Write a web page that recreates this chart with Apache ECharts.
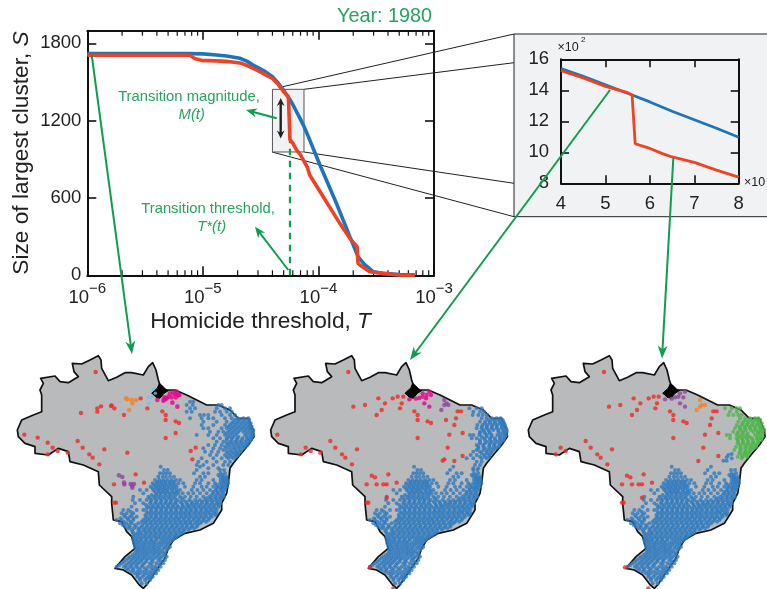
<!DOCTYPE html>
<html><head><meta charset="utf-8">
<style>html,body{margin:0;padding:0;background:#fff}#c{width:767px;height:589px}</style>
<script src="https://cdn.jsdelivr.net/npm/echarts@6/dist/echarts.min.js"></script>
</head><body><div id="c"></div>
<script>
// ---- curves ----
const blueT=[1e-6,7.73e-6,1e-5,1.31e-5,1.6e-5,2.09e-5,2.4e-5,2.72e-5,3e-5,3.4e-5,4e-5,4.5e-5,5e-5,5.6e-5,6e-5,6.5e-5,7e-5,7.5e-5,8e-5,1.03e-4,1.43e-4,1.87e-4,2.2e-4,2.5e-4,2.97e-4,3.62e-4,5.04e-4,6.8e-4];
const blueS=[1720,1720,1718,1710,1702,1684,1662,1632,1612,1585,1540,1490,1435,1370,1325,1265,1210,1155,1097,856,559,300,145,85,28,15,5,3];
const redT=[1e-6,7.7e-6,8.5e-6,9.7e-6,1.3e-5,1.6e-5,1.87e-5,2.16e-5,2.5e-5,2.91e-5,3.2e-5,3.5e-5,4e-5,4.5e-5,5e-5,5.5e-5,5.6e-5,5.67e-5,6e-5,6.3e-5,6.5e-5,7e-5,7.5e-5,8e-5,8.4e-5,1.1e-4,1.53e-4,1.87e-4,2.16e-4,2.2e-4,2.35e-4,2.78e-4,3.62e-4,5.04e-4,6.8e-4];
const redS=[1707,1707,1683,1668,1664,1660,1653,1645,1622,1593,1575,1555,1527,1480,1425,1385,1370,1055,1025,990,970,935,885,840,778,610,403,287,222,93,72,28,15,2,0];
const transitionT=5.67e-5, transitionTopS=1050;
const zoomBoxT=[4e-5,7.5e-5], zoomBoxS=[957,1443];
const minorTickT=[2e-6,3e-6,4e-6,5e-6,6e-6,7e-6,8e-6,9e-6,2e-5,3e-5,4e-5,5e-5,6e-5,7e-5,8e-5,9e-5,2e-4,3e-4,4e-4,5e-4,6e-4,7e-4,8e-4,9e-4];
// ---- map outline (shared by all three maps) ----
const outline=[[217,70],[245,72],[270,60],[295,47],[303,60],[305,85],[325,122],[350,112],[375,98],[395,98],[430,105],[445,80],[458,68],[468,90],[475,120],[480,135],[490,145],[500,150],[525,150],[560,165],[590,180],[620,195],[655,195],[690,210],[715,235],[745,235],[760,270],[762,290],[745,315],[720,345],[700,370],[690,385],[685,430],[680,460],[665,490],[665,510],[640,550],[600,570],[555,580],[520,600],[505,625],[495,655],[470,690],[440,735],[430,745],[418,735],[395,705],[370,690],[345,685],[375,650],[405,625],[395,590],[380,575],[365,545],[340,540],[335,490],[335,470],[298,435],[295,395],[250,375],[210,365],[205,335],[175,325],[145,345],[105,340],[105,320],[75,310],[55,290],[52,270],[65,240],[100,225],[125,215],[125,165],[120,150],[130,130],[122,115],[165,108],[180,125],[205,128],[235,110],[222,95],[217,70]];
const marajo=[[478,130],[490,140],[497,150],[505,152],[492,160],[480,175],[468,172],[462,165],[455,160],[465,150],[472,145]];
// ---- towns shared by the three maps (south/centre, [y,[x...]]) ----
const southRows=[[380,[482,600]],[390,[492,503,590,660,672]],[400,[480,490,500,510,582,610,625,662,675]],[410,[475,488,498,510,522,600,615,660,670,680]],[420,[465,478,490,502,515,528,540,590,605,640,662,672,682]],[430,[458,470,482,495,508,520,535,550,585,600,625,645,660,672,684]],[440,[452,468,480,492,505,518,530,555,580,605,620,640,655,668,680]],[450,[420,440,460,475,488,500,515,530,540,575,592,610,630,648,662,675]],[460,[430,470,482,495,508,522,535,548,565,580,600,620,640,655,670]],[470,[400,445,462,475,490,505,520,540,555,572,590,610,628,645,660,672]],[480,[398,420,440,455,470,485,500,515,532,550,568,585,600,615,630,645,660]],[490,[405,430,450,465,480,495,510,525,545,560,578,590,605,620,635,650,662]],[500,[395,445,460,475,490,505,520,535,550,565,580,595,610,625,640,655]],[510,[370,385,410,430,455,470,485,500,515,530,545,560,575,590,605,620,635,650]],[520,[365,380,400,445,460,475,490,505,520,535,550,565,580,595,610,625,640,650]],[530,[375,390,410,440,455,470,485,500,515,530,545,560,575,590,605,620,635]],[540,[350,365,385,400,430,445,460,475,490,505,520,535,550,565,580,595,610,625]],[550,[360,378,395,415,435,450,465,480,495,510,525,540,555,570,585,600]],[560,[375,390,408,425,440,455,470,485,500,515,530,545,560,575,590]],[570,[395,415,430,445,460,475,490,505,520,535,550,565]],[580,[400,412,425,440,455,470,485,500,515,530,545]],[590,[400,415,430,445,460,475,490,505,520,530]],[600,[400,412,425,440,455,470,490,505,518]],[610,[402,415,430,445,460,475,490,505]],[620,[405,418,432,448,462,478,495,510]],[630,[408,420,435,450,465,480,500]],[640,[405,420,435,450,465,480,495]],[650,[390,405,420,435,452,470,485,500]],[660,[378,395,410,425,440,455,475,495]],[670,[365,385,400,415,432,450,470,490]],[680,[350,372,390,408,425,445,465,482]],[690,[385,400,420,440,460,475]],[700,[405,420,440,458,468]],[710,[412,428,445,458]],[720,[420,435,450]],[730,[425,440]]];
const southDenseRows=[[405,[655,668]],[415,[668,678]],[425,[472,485,497,510,522,668,678]],[435,[462,475,488,500,513,525,650,665,676]],[445,[458,470,482,495,508,522,650,662,672]],[455,[465,478,490,503,518,530,640,652,666]],[465,[455,468,482,497,512,528,635,650,664]],[475,[450,465,480,495,510,525,545,620,635,650,664]],[485,[452,468,483,498,512,527,541,558,574,592,607,622,637,652]],[495,[438,456,472,487,503,517,531,548,562,572,586,600,616,630,644,657]],[505,[440,452,467,482,497,512,527,542,556,570,586,602,616,631,645]],[515,[392,440,452,467,482,497,512,527,542,556,570,586,601,616,628,642]],[525,[372,395,436,452,467,482,497,512,527,542,556,570,586,601,616,632,646]],[535,[362,382,400,436,449,465,480,495,510,525,538,553,568,583,598,612,628]],[545,[372,392,425,438,453,468,483,498,513,528,543,558,572,590,605,618]],[555,[368,386,405,427,443,458,473,488,502,518,533,548,562,577,593]],[565,[385,402,418,435,450,465,480,495,510,525,540,555,570,582]],[575,[398,420,436,450,465,480,495,510,525,540,552]],[585,[407,420,435,450,465,480,495,510,525,538]],[595,[406,422,437,452,468,482,498,512,525]],[605,[407,420,435,450,463,482,497,512]],[615,[410,425,438,454,468,484,500]],[625,[414,428,442,458,472,490,505]],[635,[412,428,442,458,472,488]],[645,[398,412,428,442,460,475,492]],[655,[385,400,415,430,445,462,480]],[665,[372,390,405,420,438,458,482]],[675,[358,378,395,410,428,455,478]],[685,[380,398,415,435,455,470]],[695,[395,412,430,450,466]],[705,[413,432,450]],[715,[420,440,452]]];
// dense core of the north-east, written in map 1's frame
const neCoreRows=[[240,[705,720,735,748]],[250,[695,710,725,740,752]],[260,[685,700,715,730,745,755]],[270,[690,705,720,735,750,760]],[280,[680,695,710,740,755]],[290,[685,700,715,740,755]],[300,[680,695,710,725,740,752]],[310,[680,695,710,725,740]],[320,[675,690,707,722,735]],[330,[670,690,705,720]],[340,[685,700,712]],[350,[680,695,708]]];
// ---- map 1 ----
const neRows1=[[185,[570,580]],[195,[560,578,655,665]],[205,[570,585,650,675,690]],[215,[560,575,645,660,680,695]],[225,[600,612,625,665,690,705]],[235,[570,605,625,640,675,695,712,730,745]],[245,[610,650,680,700,715,730,745]],[255,[605,640,675,690,705,720,735,750]],[265,[610,625,665,680,695,710,725,740,752]],[275,[630,655,670,685,700,715,730,745,758]],[285,[590,625,650,675,690,705,735,750,760]],[295,[640,660,680,695,712,728,745,755]],[305,[650,670,690,705,720,735,748]],[315,[625,645,665,685,700,715,730,742]],[325,[610,640,660,680,700,715,730]],[335,[615,635,655,680,695,710,722]],[345,[630,650,675,690,705,715]],[355,[605,640,665,685,700]],[365,[595,620,650,675,690]],[375,[590,610,640,670,685]],[385,[625,655]]];
const red1=[[287,96],[73,284],[113,293],[143,308],[158,323],[173,333],[143,343],[203,338],[233,303],[248,323],[268,343],[278,353],[298,373],[313,328],[382,338],[243,219],[292,205],[292,215],[303,199],[333,198],[335,196],[343,205],[372,225],[422,175],[442,205],[487,214],[497,225],[497,240],[527,244],[537,249],[527,279],[497,294],[572,333],[587,323],[577,358],[407,403],[432,428],[342,433],[342,488],[348,488]];
const orange1=[[378,175],[382,178],[395,180],[408,180],[397,190],[387,210]];
const purple1=[[357,406],[367,411],[372,428],[373,433],[392,432],[397,437],[402,432],[397,443]];
const pink1=[[472,180],[490,182],[495,178],[505,170],[510,160],[520,158],[530,155],[535,165],[528,172],[515,172],[500,175],[538,165],[517,188],[532,200],[493,172],[525,162]];
const sky1=[[460,148],[455,170],[447,190],[445,172],[466,160]];
// ---- map 2 ----
const neRows2=[[205,[628,650,665]],[215,[640,660,672]],[225,[638,655,668,680]],[235,[665,680,695,710,722]],[245,[660,675,690,705,720,730]],[255,[652,668,682,698,712,727,735]],[265,[650,665,680,695,710,725,738]],[275,[660,672,688,715,730,740]],[285,[630,640,658,680,695,712,728,738]],[295,[635,650,672,690,705,720,732]],[305,[660,680,695,712,725]],[315,[650,670,688,702,718]],[325,[655,675,692,708]],[335,[640,660,680,695]],[345,[632,650,672,688]],[355,[620,640,665,680]],[365,[650,665]],[375,[645,660]],[385,[640,655]]];
const red2=[[265,96],[52,284],[137,323],[152,333],[122,343],[181,338],[211,303],[226,323],[246,343],[256,353],[276,373],[291,328],[280,200],[315,195],[355,175],[375,190],[350,225],[365,210],[398,175],[413,170],[430,170],[425,190],[420,205],[463,214],[473,225],[473,240],[503,244],[513,249],[473,294],[558,240],[588,235],[583,255],[593,214],[603,214],[568,284],[608,279],[563,323],[553,358],[548,362],[583,363],[608,348],[335,407],[345,412],[385,403],[410,428],[320,433],[350,433],[370,433],[380,433],[380,473],[320,488],[325,488],[330,682],[400,745]];
const pink2=[[448,178],[468,176],[478,174],[488,170],[488,160],[498,175],[508,155],[513,165],[493,190],[508,200],[500,165]];
const purple2=[[553,180],[560,190],[565,195],[553,195],[544,210]];
// ---- map 3 ----
const greenRows3=[[205,[645,665,680,690]],[215,[660,680]],[225,[655,670,685,695]],[235,[690,705,720,735,745]],[245,[685,700,715,730,745]],[255,[680,695,710,725,740,750]],[265,[675,690,705,720,735,750]],[275,[670,685,700,730,745,752]],[285,[650,660,680,695,710,735,750]],[295,[660,680,695,710,725,740,752]],[305,[685,700,715,730,745]],[315,[690,705,720,735]],[325,[690,705,720,732]],[335,[690,705,718]],[345,[695,708]],[355,[695]]];
const blueExtra3=[[640,362],[650,352],[665,342],[655,345],[665,355],[650,362]];
const red3=[[282,96],[297,200],[331,195],[371,175],[391,190],[366,225],[381,210],[416,175],[431,170],[446,170],[441,190],[436,205],[480,214],[490,225],[490,240],[520,244],[530,249],[490,294],[605,235],[600,255],[610,214],[620,214],[585,284],[625,279],[580,323],[565,363],[625,348],[227,303],[242,323],[262,343],[272,353],[292,373],[306,328],[152,323],[167,333],[137,343],[351,407],[361,412],[401,403],[426,428],[336,433],[366,433],[386,433],[396,433],[396,473],[336,488],[341,488],[345,682],[415,745]];
const purple3=[[465,178],[485,176],[495,172],[505,170],[510,160],[520,172],[525,155],[510,190],[525,200]];
const orange3=[[570,180],[575,195],[585,195],[560,210],[570,200]];

// ---- styling ----
const FONT='"Liberation Sans",Arial,sans-serif';
const FAM='Liberation Sans';
const C={blue:'#1c75bc',red:'#ef4123',green:'#0f9d4f',label:'#27a25f',land:'#b9babc',tBlue:'#2f7bbf',tRed:'#ed2a24',tGreen:'#4cb748',orange:'#f58220',purple:'#8e44a0',pink:'#ec008c',sky:'#6cc5e8',ink:'#111'};
const zip=(a,b)=>a.map((v,i)=>[v,b[i]]);
const rows=r=>r.flatMap(([y,xs])=>xs.map(x=>[x,y]));
const shift=(pts,dx)=>pts.map(([x,y])=>[x+dx,y]);
const tickFont={fontSize:18.5,fontFamily:FAM,color:'#222'};
const titleRich={t:{fontSize:22.7,fontFamily:FAM,color:'#222'},i:{fontSize:22.7,fontFamily:FAM,fontStyle:'italic',color:'#222'}};

const grids=[
 {left:87.3,top:30.7,width:346.7,height:244.6},
 {left:561,top:59.3,width:177.7,height:124},
 {left:0,top:340,width:270,height:249},
 {left:260,top:340,width:270,height:249},
 {left:510,top:340,width:257,height:249}
];
const inTick=(len,w)=>({show:true,inside:true,length:len,lineStyle:{color:C.ink,width:w}});
const frameLine=w=>({show:true,onZero:false,lineStyle:{color:C.ink,width:w}});
const expLabel=v=>{const e=Math.round(Math.log10(v));return '{b|10}{s|\u2212'+Math.abs(e)+'}';};
const plain=v=>String(v);
const xAxes=[
 {gridIndex:0,type:'log',logBase:10,min:1e-6,max:1e-3,position:'bottom',axisLine:frameLine(2),axisTick:inTick(9,1.6),splitLine:{show:false},
  axisLabel:{margin:6,formatter:expLabel,rich:{b:{fontSize:18.5,fontFamily:FAM,color:'#222',lineHeight:26,verticalAlign:'bottom'},s:{fontSize:15,fontFamily:FAM,color:'#222',lineHeight:15,verticalAlign:'top'}}},
  name:'{t|Homicide threshold, }{i|T}',nameLocation:'middle',nameGap:35,nameTextStyle:{rich:titleRich}},
 {gridIndex:0,type:'log',logBase:10,min:1e-6,max:1e-3,position:'top',axisLine:frameLine(2),axisTick:inTick(9,1.6),axisLabel:{show:false},splitLine:{show:false}},
 {gridIndex:1,type:'value',min:4,max:8,interval:1,position:'bottom',axisLine:frameLine(2),axisTick:inTick(8,1.6),splitLine:{show:false},axisLabel:Object.assign({margin:11,formatter:plain},tickFont)},
 {gridIndex:1,type:'value',min:4,max:8,interval:1,position:'top',axisLine:frameLine(2),axisTick:inTick(8,1.6),axisLabel:{show:false},splitLine:{show:false}}
];
const yAxes=[
 {gridIndex:0,type:'value',min:0,max:1898,interval:600,position:'left',axisLine:frameLine(2),axisTick:inTick(9,1.6),splitLine:{show:false},axisLabel:Object.assign({margin:6,showMaxLabel:false,formatter:plain},tickFont),
  name:'{t|Size of largest cluster, }{i|S}',nameLocation:'middle',nameGap:54,nameTextStyle:{rich:titleRich}},
 {gridIndex:0,type:'value',min:0,max:1898,interval:600,position:'right',axisLine:frameLine(2),axisTick:inTick(9,1.6),axisLabel:{show:false},splitLine:{show:false}},
 {gridIndex:1,type:'value',min:8,max:16,interval:2,position:'left',axisLine:frameLine(2),axisTick:inTick(8,1.6),splitLine:{show:false},axisLabel:Object.assign({margin:12,formatter:plain},tickFont)},
 {gridIndex:1,type:'value',min:8,max:16,interval:2,position:'right',axisLine:frameLine(2),axisTick:inTick(8,1.6),axisLabel:{show:false},splitLine:{show:false}}
];
[[0,810],[0,810],[0,771]].forEach(([a,b],i)=>{
 xAxes.push({gridIndex:i+2,type:'value',min:a,max:b,show:false});
 yAxes.push({gridIndex:i+2,type:'value',min:0,max:747,inverse:true,show:false});
});

const series=[
 {type:'custom',xAxisIndex:0,yAxisIndex:0,silent:true,clip:false,z:3,data:minorTickT.map(t=>[t,0]),
  renderItem(p,api){const t=api.value(0);const a=api.coord([t,0]),b=api.coord([t,1898]);const s={stroke:C.ink,lineWidth:1.2};
   return {type:'group',children:[{type:'line',shape:{x1:a[0],y1:a[1],x2:a[0],y2:a[1]-5},style:s},{type:'line',shape:{x1:b[0],y1:b[1],x2:b[0],y2:b[1]+5},style:s}]};}},
 {type:'line',xAxisIndex:0,yAxisIndex:0,data:[[transitionT,0],[transitionT,transitionTopS]],symbol:'none',z:3,lineStyle:{color:C.green,width:2.2,type:[6.5,5.5]},
  markArea:{silent:true,z:1,itemStyle:{color:'#f1f2f4',borderColor:'#555',borderWidth:1},data:[[{coord:[zoomBoxT[0],zoomBoxS[1]]},{coord:[zoomBoxT[1],zoomBoxS[0]]}]]}},
 {type:'line',xAxisIndex:0,yAxisIndex:0,data:zip(blueT,blueS),symbol:'none',z:4,lineStyle:{color:C.blue,width:3.6}},
 {type:'line',xAxisIndex:0,yAxisIndex:0,data:zip(redT,redS),symbol:'none',z:5,clip:false,lineStyle:{color:C.red,width:3.6}},
 {type:'line',xAxisIndex:2,yAxisIndex:2,data:zip(blueT,blueS).filter(d=>d[0]>=4e-5&&d[0]<=8e-5).map(d=>[d[0]*1e5,d[1]/100]),symbol:'none',z:4,lineStyle:{color:C.blue,width:2.8}},
 {type:'line',xAxisIndex:2,yAxisIndex:2,data:zip(redT,redS).filter(d=>d[0]>=4e-5&&d[0]<=8e-5).map(d=>[d[0]*1e5,d[1]/100]),symbol:'none',z:5,lineStyle:{color:C.red,width:2.8}}
];
const poly=(pts,fill,stroke,lw,ax,z)=>({type:'custom',xAxisIndex:ax,yAxisIndex:ax,silent:true,clip:false,z,data:[[pts[0][0],pts[0][1]]],
 renderItem:(p,api)=>({type:'polygon',shape:{points:pts.map(q=>api.coord(q))},style:{fill,stroke,lineWidth:lw,lineJoin:'round'}})});
const dots=(pts,color,ax,size,z)=>({type:'scatter',xAxisIndex:ax,yAxisIndex:ax,silent:true,data:pts,symbolSize:size,z:z||7,itemStyle:{color},clip:false,large:false});
function addMap(ax,dx,layers){
 series.push(poly(shift(outline,dx),C.land,'#111',1.7,ax,5));
 series.push(poly(shift(marajo,dx),'#000','#000',1,ax,6));
 layers.forEach(l=>series.push(dots(l[0],l[1],ax,l[2]||4)));
}
const south=rows(southRows).concat(rows(southDenseRows));
addMap(4,0,[[south.concat(rows(neRows1),rows(neCoreRows)),C.tBlue],[sky1,C.sky,3.5],[pink1,C.pink,4.6],[orange1,C.orange,4.6],[purple1,C.purple,4.6],[red1,C.tRed,4.4]]);
addMap(5,-20,[[shift(south,-20).concat(rows(neRows2),shift(rows(neCoreRows),-20)),C.tBlue],[pink2,C.pink,4.4],[purple2,C.purple,4.4],[red2,C.tRed,4.4]]);
addMap(6,3,[[shift(south,3).concat(blueExtra3),C.tBlue],[rows(greenRows3).concat(shift(rows(neCoreRows),3)),C.tGreen],[purple3,C.purple,4.4],[orange3,C.orange,4.4],[red3,C.tRed,4.4]]);

// ---- annotations ----
const seg=(x1,y1,x2,y2,stroke,lineWidth,z)=>({type:'line',z:z||20,silent:true,shape:{x1,y1,x2,y2},style:{stroke,lineWidth}});
function head(x1,y1,x2,y2,color,L,W,z){
 const d=Math.hypot(x2-x1,y2-y1),ux=(x2-x1)/d,uy=(y2-y1)/d,nx=-uy,ny=ux;
 return {type:'polygon',z:z||21,silent:true,shape:{points:[[x2,y2],[x2-ux*L+nx*W,y2-uy*L+ny*W],[x2-ux*L*0.7,y2-uy*L*0.7],[x2-ux*L-nx*W,y2-uy*L-ny*W]]},style:{fill:color}};
}
const arrow=(x1,y1,x2,y2,c,lw,L,W)=>{const d=Math.hypot(x2-x1,y2-y1),k=(d-L*0.6)/d;return [seg(x1,y1,x1+(x2-x1)*k,y1+(y2-y1)*k,c,lw),head(x1,y1,x2,y2,c,L,W)];};
const txt=(text,x,y,font,fill,align)=>({type:'text',z:25,silent:true,style:{text,x,y,font,fill,textAlign:align||'center',textVerticalAlign:'middle'}});
const graphic=[
 {type:'rect',z:-1,silent:true,shape:{x:514,y:34,width:260,height:182.7},style:{fill:'#f1f2f4',stroke:'#222',lineWidth:1}},
 seg(282.7,86.7,514,34,'#222',1,1),seg(304,89.3,514,62.7,'#222',1,1),seg(304,152,514,183.3,'#222',1,1),seg(272,152,514,216.7,'#222',1,1),
 ...arrow(91.7,55,132,354,C.green,2,13,5),
 ...arrow(610,90,410,360,C.green,2,13,5),
 ...arrow(673.3,158.3,662,358.5,C.green,2,13,5),
 ...arrow(276.7,118.3,246,110,C.green,2,11,4.5),
 ...arrow(288.3,270,255,226.7,C.green,2,11,4.5),
 seg(280.7,102,280.7,134,'#222',2.4),head(280.7,118,280.7,98,'#222',8,3.8),head(280.7,118,280.7,138.5,'#222',8,3.8),
 txt('Year: 1980',432,17,'19.8px '+FONT,C.label,'right'),
 txt('Transition magnitude,',189,97,'14.8px '+FONT,C.label),
 txt('M(t)',191.7,115,'italic 14.8px '+FONT,C.label),
 txt('Transition threshold,',208,209,'14.8px '+FONT,C.label),
 txt('T*(t)',211.7,227,'italic 14.8px '+FONT,C.label),
 txt('\u00d710',557.5,48,'12.5px '+FONT,'#222','left'),
 txt('2',581,40,'8px '+FONT,'#222','left'),
 txt('\u00d710',744,183,'12.5px '+FONT,'#222','left')
];
const chart=echarts.init(document.getElementById('c'),null,{renderer:'canvas'});
chart.setOption({animation:false,backgroundColor:'#fff',grid:grids,xAxis:xAxes,yAxis:yAxes,series,graphic:{elements:graphic}});
</script></body></html>
